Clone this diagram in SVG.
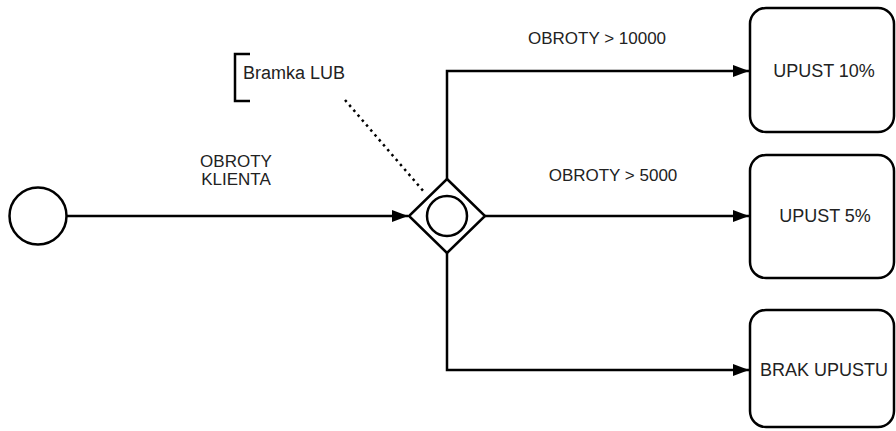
<svg xmlns="http://www.w3.org/2000/svg" width="896" height="431" viewBox="0 0 896 431">
<style>
.s{fill:none;stroke:#000;stroke-width:2.5}
.n{fill:#fff;stroke:#000;stroke-width:2.5}
.t{font-family:"Liberation Sans",Arial,sans-serif;font-size:17px;fill:#222}
.b{font-size:18px}
.c{text-anchor:middle}
</style>
<defs>
<marker id="a" viewBox="0 0 16 12" refX="16" refY="6" markerWidth="16" markerHeight="12" markerUnits="userSpaceOnUse" orient="auto">
<path d="M0,0 L16,6 L0,12 Z" fill="#000"/>
</marker>
</defs>
<rect width="896" height="431" fill="#fff"/>
<g id="connectors">
<path class="s" d="M67,216 H408" marker-end="url(#a)"/>
<path class="s" d="M447,179 V71 H749" marker-end="url(#a)"/>
<path class="s" d="M485,216 H749" marker-end="url(#a)"/>
<path class="s" d="M447,253 V370 H749" marker-end="url(#a)"/>
<path d="M345,100 L425,193" fill="none" stroke="#000" stroke-width="2.5" stroke-dasharray="2.5,4"/>
<text class="t c" x="236" y="167">OBROTY</text>
<text class="t c" x="236" y="185">KLIENTA</text>
<text class="t c" x="597" y="44">OBROTY &gt; 10000</text>
<text class="t c" x="613" y="181">OBROTY &gt; 5000</text>
</g>
<g id="start">
<circle class="n" cx="38" cy="216" r="28.5"/>
</g>
<g id="gateway">
<path class="n" d="M447,179 L485,216 L447,253 L409,216 Z"/>
<circle class="s" cx="447" cy="216" r="20" stroke-width="3"/>
</g>
<g id="annotation">
<path class="s" d="M250,54 H235 V101 H250" stroke-width="3"/>
<text class="t b" x="243" y="79">Bramka LUB</text>
</g>
<g id="box1">
<rect class="n" x="750" y="8" width="144" height="124" rx="16"/>
<text class="t b c" x="824" y="77">UPUST 10%</text>
</g>
<g id="box2">
<rect class="n" x="750" y="155" width="144" height="123" rx="16"/>
<text class="t b c" x="825" y="222">UPUST 5%</text>
</g>
<g id="box3">
<rect class="n" x="750" y="310" width="144" height="117" rx="16"/>
<text class="t b c" x="824" y="376">BRAK UPUSTU</text>
</g>
</svg>
